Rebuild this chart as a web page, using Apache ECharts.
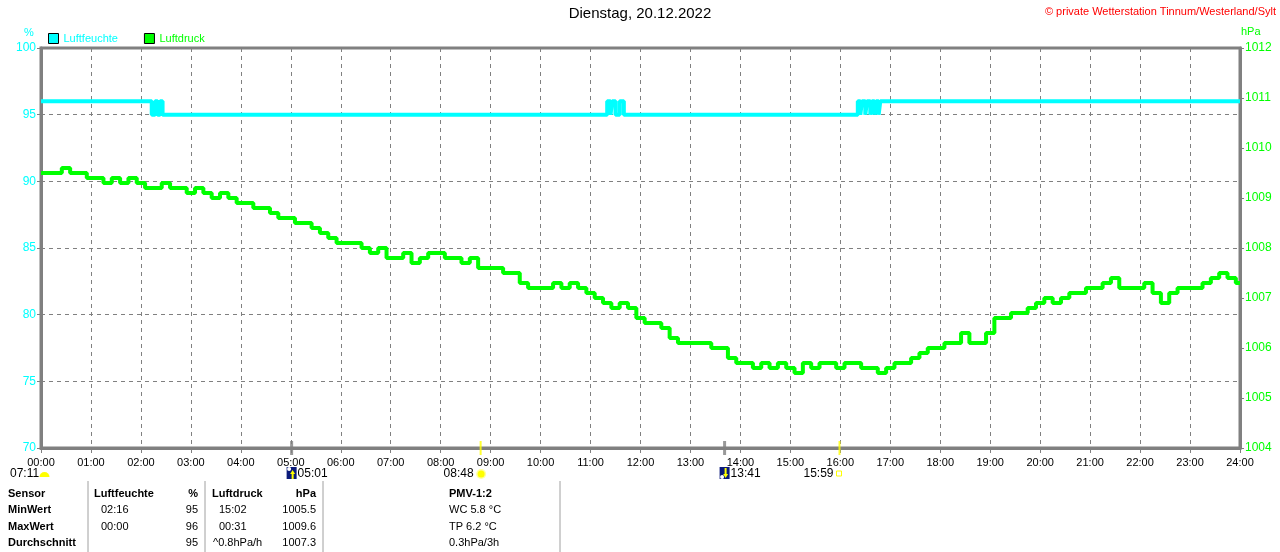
<!DOCTYPE html>
<html>
<head>
<meta charset="utf-8">
<script src="https://cdn.jsdelivr.net/npm/echarts@6/dist/echarts.min.js"></script>
<style>
html,body{margin:0;padding:0;background:#fff;}
#c{width:1280px;height:552px;}
</style>
</head>
<body>
<div id="c"></div>
<script>
// ---- Data ----
const titleText = 'Dienstag, 20.12.2022';
const copyrightText = '\u00A9 private Wetterstation Tinnum/Westerland/Sylt';
const xTickLabels = ['00:00','01:00','02:00','03:00','04:00','05:00','06:00','07:00','08:00','09:00','10:00','11:00','12:00','13:00','14:00','15:00','16:00','17:00','18:00','19:00','20:00','21:00','22:00','23:00','24:00'];

// Humidity (%) - change points: minute of day and new value
const humTimes  = [0, 133, 137, 140, 143, 146, 149, 680, 684, 686, 690, 695, 700, 981, 984, 986, 990, 992, 996, 998, 1001, 1003, 1006, 1008, 1440];
const humValues = [96, 95, 96, 95, 96, 95, 95, 96, 95, 96, 95, 96, 95, 96, 95, 96, 95, 96, 95, 96, 95, 96, 95, 96, 96];

// Pressure (hPa), one value every 10 minutes from 00:00 to 24:00
const presStepMin = 10;
const presValues = [
 1009.5,1009.5,1009.5,1009.6,1009.5,1009.5,1009.4,1009.4,1009.3,1009.4,
 1009.3,1009.4,1009.3,1009.2,1009.2,1009.3,1009.2,1009.2,1009.1,1009.2,
 1009.1,1009.0,1009.1,1009.0,1008.9,1008.9,1008.8,1008.8,1008.7,1008.6,
 1008.6,1008.5,1008.5,1008.4,1008.3,1008.2,1008.1,1008.1,1008.1,1008.0,
 1007.9,1008.0,1007.8,1007.8,1007.9,1007.7,1007.8,1007.9,1007.9,1007.8,
 1007.8,1007.7,1007.8,1007.6,1007.6,1007.6,1007.5,1007.5,1007.3,1007.2,
 1007.2,1007.2,1007.3,1007.2,1007.3,1007.2,1007.1,1007.0,1006.9,1006.8,
 1006.9,1006.8,1006.6,1006.5,1006.5,1006.4,1006.2,1006.1,1006.1,1006.1,
 1006.1,1006.0,1006.0,1005.8,1005.7,1005.7,1005.6,1005.7,1005.6,1005.7,
 1005.6,1005.5,1005.7,1005.6,1005.7,1005.7,1005.6,1005.7,1005.7,1005.6,
 1005.6,1005.5,1005.6,1005.7,1005.7,1005.8,1005.9,1006.0,1006.0,1006.1,
 1006.1,1006.3,1006.1,1006.1,1006.3,1006.6,1006.6,1006.7,1006.7,1006.8,
 1006.9,1007.0,1006.9,1007.0,1007.1,1007.1,1007.2,1007.2,1007.3,1007.4,
 1007.2,1007.2,1007.2,1007.3,1007.1,1006.9,1007.1,1007.2,1007.2,1007.2,
 1007.3,1007.4,1007.5,1007.4,1007.3
];

// Sun / moon events on the time axis (minute of day)
const eventTimes  = [301, 528, 821, 959];
const eventLabels = ['05:01', '08:48', '13:41', '15:59'];
const eventKinds  = ['moon', 'sun', 'moon', 'sun'];
const leftEventLabel = '07:11';

// Statistics table
const tableRowHeads = ['Sensor', 'MinWert', 'MaxWert', 'Durchschnitt'];
const humColTime  = ['02:16', '00:00', ''];
const humColValue = ['95', '96', '95'];
const presColTime  = ['15:02', '00:31', '^0.8hPa/h'];
const presColValue = ['1005.5', '1009.6', '1007.3'];
const pmvCol = ['WC 5.8 \u00B0C', 'TP 6.2 \u00B0C', '0.3hPa/3h'];

// ---- Build ----
const CYAN = '#00FFFF', GREEN = '#00FF00', GRAY = '#808080', YEL = '#FFFF00';
const FONT = '"Liberation Sans", Arial, sans-serif';
const humData = humTimes.map((t, i) => [t, humValues[i]]);
const presData = presValues.map((v, i) => [i * presStepMin, v]);

const chart = echarts.init(document.getElementById('c'), null, {renderer: 'canvas'});

const option = {
  animation: false,
  backgroundColor: '#fff',
  textStyle: {fontFamily: FONT},
  grid: {left: 41, right: 40, top: 48, bottom: 104, show: true, borderColor: GRAY, borderWidth: 3, backgroundColor: '#fff'},
  legend: {
    left: 46, top: 31, itemWidth: 10, itemHeight: 10, itemGap: 26, icon: 'rect', padding: 2,
    itemStyle: {borderColor: '#000', borderWidth: 1},
    textStyle: {fontSize: 11, fontFamily: FONT},
    data: [{name: 'Luftfeuchte', textStyle: {color: CYAN}}, {name: 'Luftdruck', textStyle: {color: GREEN}}]
  },
  xAxis: {
    type: 'value', min: 0, max: 1440, interval: 60,
    axisLine: {show: true, lineStyle: {color: GRAY, width: 3}},
    axisTick: {show: true, length: 5, lineStyle: {color: GRAY, width: 1}},
    axisLabel: {color: '#000', fontSize: 11, fontFamily: FONT, margin: 9,
      formatter: v => xTickLabels[Math.round(v / 60)]},
    splitLine: {show: true, lineStyle: {color: GRAY, type: [4, 4], width: 1}}
  },
  yAxis: [
    {type: 'value', min: 70, max: 100, interval: 5, position: 'left',
     axisLine: {show: true, lineStyle: {color: GRAY, width: 3}},
     axisTick: {show: true, length: 4, lineStyle: {color: GRAY}},
     axisLabel: {color: CYAN, fontSize: 12, fontFamily: FONT, margin: 5},
     splitLine: {show: true, lineStyle: {color: GRAY, type: [4, 4], width: 1}}},
    {type: 'value', min: 1004, max: 1012, interval: 1, position: 'right',
     axisLine: {show: true, lineStyle: {color: GRAY, width: 3}},
     axisTick: {show: true, length: 4, lineStyle: {color: GRAY}},
     axisLabel: {color: GREEN, fontSize: 12, fontFamily: FONT, margin: 5, formatter: v => String(v)},
     splitLine: {show: false}}
  ],
  series: [
    {name: 'Luftfeuchte', type: 'line', yAxisIndex: 0, step: 'end', data: humData,
     showSymbol: false, symbol: 'none', lineStyle: {color: CYAN, width: 4}, itemStyle: {color: CYAN}, z: 3},
    {name: 'Luftdruck', type: 'line', yAxisIndex: 1, step: 'middle', data: presData,
     showSymbol: false, symbol: 'none', lineStyle: {color: GREEN, width: 4}, itemStyle: {color: GREEN}, z: 4},
    {name: 'events', type: 'scatter', yAxisIndex: 0, silent: true, clip: false, symbol: 'rect',
     data: eventTimes.map((t, i) => ({value: [t, 70], symbolSize: eventKinds[i] === 'moon' ? [3, 14] : [2, 14],
       itemStyle: {color: eventKinds[i] === 'moon' ? GRAY : YEL}})), z: 5}
  ]
};
chart.setOption(option);

// ---- Decorations: title, units, event labels, statistics table ----
const g = [];
g.push({type: 'text', left: 'center', top: 6, style: {text: titleText, font: '15px ' + FONT, fill: '#000'}});
g.push({type: 'text', right: 4, top: 6, style: {text: copyrightText, font: '11px ' + FONT, fill: '#FF0000'}});
g.push({type: 'text', x: 24, y: 27, style: {text: '%', font: '11px ' + FONT, fill: CYAN}});
g.push({type: 'text', x: 1241, y: 26, style: {text: 'hPa', font: '11px ' + FONT, fill: GREEN}});

// left event label (07:11) with half sun
g.push({type: 'text', x: 10, y: 468, style: {text: leftEventLabel, font: '12px ' + FONT, fill: '#000'}});
g.push({type: 'sector', shape: {cx: 44.5, cy: 477, r: 5, r0: 0, startAngle: Math.PI, endAngle: Math.PI * 2}, style: {fill: YEL}});

eventTimes.forEach((t, i) => {
  const px = chart.convertToPixel({xAxisIndex: 0}, t);
  const label = eventLabels[i];
  if (eventKinds[i] === 'moon') {
    const before = (i === 0);
    const ix = px - 5;
    g.push({type: 'rect', shape: {x: ix, y: 467, width: 10, height: 12}, style: {fill: '#0A1A7A'}});
    g.push({type: 'circle', shape: {cx: ix + 2.5, cy: before ? 469 : 477, r: 2}, style: {fill: '#FFFFFF'}});
    g.push({type: 'polygon', shape: {points: [[ix + 6, before ? 470 : 478], [ix + 3.5, 474], [ix + 8.5, 474]]}, style: {fill: YEL}});
    g.push({type: 'rect', shape: {x: ix + 5, y: before ? 473 : 468, width: 2, height: 6}, style: {fill: YEL}});
    g.push({type: 'text', x: ix + 11, y: 468, style: {text: label, font: '12px ' + FONT, fill: '#000'}});
  } else {
    if (i === 1) {
      g.push({type: 'circle', shape: {cx: px + 0.5, cy: 474, r: 5}, style: {fill: '#FFFFA0'}});
      g.push({type: 'circle', shape: {cx: px + 0.5, cy: 474, r: 3.5}, style: {fill: YEL}});
      g.push({type: 'text', x: px - 7, y: 468, style: {text: label, font: '12px ' + FONT, fill: '#000', align: 'right'}});
    } else {
      g.push({type: 'rect', shape: {x: px - 3, y: 471, width: 5, height: 5}, style: {fill: 'none', stroke: YEL, lineWidth: 1}});
      g.push({type: 'text', x: px - 6, y: 468, style: {text: label, font: '12px ' + FONT, fill: '#000', align: 'right'}});
    }
  }
});

// table separators
[88, 205, 323, 560].forEach(x => {
  g.push({type: 'line', shape: {x1: x, y1: 481, x2: x, y2: 552}, style: {stroke: '#A0A0A0', lineWidth: 1}});
});
const rowY = [488, 504.5, 521, 537];
const B = 'bold 11px ' + FONT, N = '11px ' + FONT;
tableRowHeads.forEach((t, r) => g.push({type: 'text', x: 8, y: rowY[r], style: {text: t, font: B, fill: '#000'}}));
g.push({type: 'text', x: 94, y: rowY[0], style: {text: 'Luftfeuchte', font: B, fill: '#000'}});
g.push({type: 'text', x: 198, y: rowY[0], style: {text: '%', font: B, fill: '#000', align: 'right'}});
g.push({type: 'text', x: 212, y: rowY[0], style: {text: 'Luftdruck', font: B, fill: '#000'}});
g.push({type: 'text', x: 316, y: rowY[0], style: {text: 'hPa', font: B, fill: '#000', align: 'right'}});
g.push({type: 'text', x: 449, y: rowY[0], style: {text: 'PMV-1:2', font: B, fill: '#000'}});
for (let r = 0; r < 3; r++) {
  const y = rowY[r + 1];
  g.push({type: 'text', x: 101, y, style: {text: humColTime[r], font: N, fill: '#000'}});
  g.push({type: 'text', x: 198, y, style: {text: humColValue[r], font: N, fill: '#000', align: 'right'}});
  g.push({type: 'text', x: r === 2 ? 213 : 219, y, style: {text: presColTime[r], font: N, fill: '#000'}});
  g.push({type: 'text', x: 316, y, style: {text: presColValue[r], font: N, fill: '#000', align: 'right'}});
  g.push({type: 'text', x: 449, y, style: {text: pmvCol[r], font: N, fill: '#000'}});
}
chart.setOption({graphic: g});
</script>
</body>
</html>
